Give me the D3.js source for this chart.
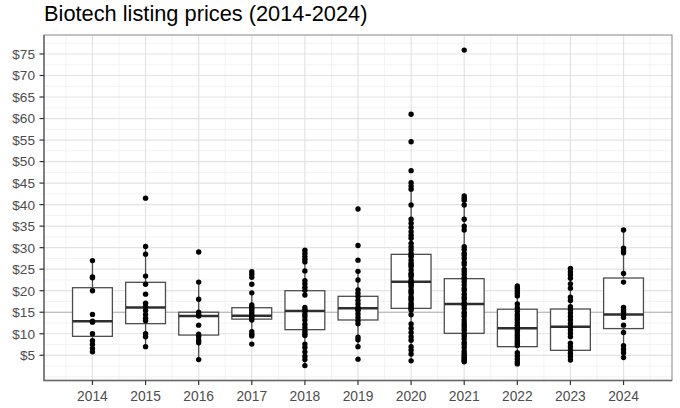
<!DOCTYPE html>
<html>
<head>
<meta charset="utf-8">
<script src="https://cdn.jsdelivr.net/npm/d3@7/dist/d3.min.js"></script>
<style>
body { margin: 0; background: #fff; }
text { font-family: "Liberation Sans", Arial, Helvetica, sans-serif; }
</style>
</head>
<body>
<svg id="chart"></svg>
<script>
var w = 680;
var h = 408;
var margin = {top: 35, right: 8, bottom: 27.5, left: 44};

var title = "Biotech listing prices (2014-2024)";
var years = [2014, 2015, 2016, 2017, 2018, 2019, 2020, 2021, 2022, 2023, 2024];
var yTicks = [5, 10, 15, 20, 25, 30, 35, 40, 45, 50, 55, 60, 65, 70, 75];
var yTickLabels = ["$5", "$10", "$15", "$20", "$25", "$30", "$35", "$40", "$45", "$50", "$55", "$60", "$65", "$70", "$75"];
var refPrice = 15;

// listing prices, one array per year
var prices2014 = [27.0, 23.2, 23.0, 20.0, 14.5, 12.9, 12.7, 10.0, 8.4, 7.5, 6.6, 5.8];
var prices2015 = [41.5, 30.3, 28.5, 23.4, 21.5, 19.2, 17.1, 16.3, 15.4, 14.5, 13.6, 13.0, 10.0, 9.3, 7.0];
var prices2016 = [29.0, 22.0, 18.0, 15.0, 14.5, 14.1, 12.0, 9.9, 9.3, 8.5, 7.9, 4.0];
var prices2017 = [24.4, 23.8, 23.1, 21.5, 19.5, 16.7, 16.2, 15.7, 15.1, 14.6, 14.1, 13.7, 13.2, 10.5, 9.9, 9.5, 7.6];
var prices2018 = [29.4, 28.7, 28.0, 27.3, 26.7, 24.6, 22.3, 21.6, 20.8, 20.1, 19.0, 16.1, 15.6, 15.3, 14.6, 14.0,
                  13.2, 12.2, 11.4, 10.6, 10.0, 9.6, 7.6, 6.8, 5.8, 4.8, 4.0, 2.6];
var prices2019 = [39.0, 30.5, 27.1, 24.5, 22.5, 20.2, 19.4, 18.6, 17.7, 16.9, 16.1, 15.7, 15.4, 14.6, 13.8, 13.0,
                  12.3, 9.2, 8.6, 7.0, 4.1];
var prices2020 = [61.0, 54.6, 47.9, 45.1, 44.3, 43.6, 39.9, 36.6, 35.7, 34.7, 33.7, 32.9, 32.2, 31.0, 30.2, 29.5,
                  28.7, 28.2, 27.9, 27.1, 26.4, 26.0, 25.6, 24.8, 24.0, 23.7, 23.3, 22.5, 22.1, 21.7, 21.3, 20.9,
                  20.2, 19.8, 19.4, 18.6, 18.2, 17.8, 17.1, 16.7, 16.3, 15.9, 15.5, 14.4, 12.3, 11.3, 10.3, 9.3,
                  8.5, 7.0, 6.2, 5.3, 3.7];
var prices2021 = [75.9, 42.0, 41.5, 41.0, 39.9, 36.6, 35.0, 34.1, 30.2, 29.6, 28.7, 28.2, 27.5, 26.6, 26.1, 25.0,
                  24.4, 23.8, 23.1, 22.6, 22.0, 21.3, 20.5, 20.0, 19.2, 18.5, 18.0, 17.2, 16.9, 16.5, 15.8, 15.0,
                  14.6, 14.0, 13.2, 12.5, 12.0, 11.4, 10.8, 10.0, 9.5, 8.8, 8.0, 7.5, 6.8, 6.0, 5.4, 5.0, 4.6,
                  4.3, 4.0, 3.7, 3.5];
var prices2022 = [21.1, 20.6, 20.0, 19.4, 18.8, 16.9, 16.0, 15.2, 14.5, 13.9, 13.3, 12.6, 12.0, 11.4, 10.8, 10.2,
                  9.6, 9.0, 8.4, 7.8, 7.3, 5.6, 4.9, 4.2, 3.5, 3.0];
var prices2023 = [25.2, 24.4, 23.7, 22.9, 21.6, 20.6, 18.5, 17.7, 16.3, 15.5, 14.8, 14.0, 13.2, 12.4, 11.6, 10.9,
                  10.1, 9.3, 7.8, 7.0, 6.2, 5.5, 4.7, 3.9];
var prices2024 = [34.1, 29.9, 29.3, 28.8, 24.0, 22.0, 16.1, 15.5, 15.0, 14.4, 13.8, 12.0, 10.3, 7.2, 6.4, 5.6, 4.5];

// box hinges and medians
var lowerHinge = [9.4, 12.35, 9.7, 13.4, 10.95, 13.2, 15.9, 10.1, 7.0, 6.15, 11.2];
var medians = [12.9, 16.1, 14.1, 14.2, 15.3, 15.9, 22.1, 16.9, 11.3, 11.6, 14.5];
var upperHinge = [20.7, 21.95, 15.0, 16.05, 20.0, 18.7, 28.45, 22.8, 15.7, 15.75, 22.95];

var prices = [prices2014, prices2015, prices2016, prices2017, prices2018, prices2019,
              prices2020, prices2021, prices2022, prices2023, prices2024];

var boxes = years.map(function (yr, i) {
    var iqr = upperHinge[i] - lowerHinge[i];
    var inside = prices[i].filter(function (p) {
        return p >= lowerHinge[i] - 1.5 * iqr && p <= upperHinge[i] + 1.5 * iqr;
    });
    return {year: yr, q1: lowerHinge[i], med: medians[i], q3: upperHinge[i],
            lo: d3.min(inside), hi: d3.max(inside)};
});

var points = [];
years.forEach(function (yr, i) {
    prices[i].forEach(function (p) { points.push({year: yr, price: p}); });
});

var svg = d3.select("#chart")
    .attr("width", w)
    .attr("height", h);

svg.append("rect").attr("width", w).attr("height", h).attr("fill", "#fff");

var x = d3.scaleLinear()
    .domain([2013.0875, 2024.9125])
    .range([margin.left, w - margin.right]);
var y = d3.scaleLinear()
    .domain([-0.86, 79.41])
    .range([h - margin.bottom, margin.top]);

var boxWidth = 0.75;

drawGrid();
drawBoxes();
drawPoints();
drawAxes();

function drawGrid() {
    var minorX = d3.range(2013.5, 2025, 1);
    var minorY = d3.range(0, 80, 2.5).filter(function (v) { return v % 5 !== 0 || v === 0; });
    var grid = svg.append("g");

    grid.selectAll(".minor-x").data(minorX).enter().append("line")
        .attr("x1", d => x(d)).attr("x2", d => x(d))
        .attr("y1", margin.top).attr("y2", h - margin.bottom)
        .style("stroke", "#f0f0f0").style("stroke-width", 0.8);
    grid.selectAll(".minor-y").data(minorY).enter().append("line")
        .attr("x1", margin.left).attr("x2", w - margin.right)
        .attr("y1", d => y(d)).attr("y2", d => y(d))
        .style("stroke", "#f0f0f0").style("stroke-width", 0.8);
    grid.selectAll(".major-x").data(years).enter().append("line")
        .attr("x1", d => x(d)).attr("x2", d => x(d))
        .attr("y1", margin.top).attr("y2", h - margin.bottom)
        .style("stroke", "#e3e3e3").style("stroke-width", 1.2);
    grid.selectAll(".major-y").data(yTicks).enter().append("line")
        .attr("x1", margin.left).attr("x2", w - margin.right)
        .attr("y1", d => y(d)).attr("y2", d => y(d))
        .style("stroke", "#e3e3e3").style("stroke-width", 1.2);

    // reference price
    svg.append("line")
        .attr("x1", margin.left).attr("x2", w - margin.right)
        .attr("y1", y(refPrice)).attr("y2", y(refPrice))
        .style("stroke", "#b0b0b0").style("stroke-width", 1.1);
}

function drawBoxes() {
    var g = svg.append("g");
    var box = g.selectAll(".box").data(boxes).enter().append("g").attr("class", "box");

    box.append("line")
        .attr("x1", d => x(d.year)).attr("x2", d => x(d.year))
        .attr("y1", d => y(d.hi)).attr("y2", d => y(d.q3))
        .style("stroke", "#4d4d4d").style("stroke-width", 1.3);
    box.append("line")
        .attr("x1", d => x(d.year)).attr("x2", d => x(d.year))
        .attr("y1", d => y(d.q1)).attr("y2", d => y(d.lo))
        .style("stroke", "#4d4d4d").style("stroke-width", 1.3);
    box.append("rect")
        .attr("x", d => x(d.year - boxWidth / 2))
        .attr("width", d => x(d.year + boxWidth / 2) - x(d.year - boxWidth / 2))
        .attr("y", d => y(d.q3))
        .attr("height", d => y(d.q1) - y(d.q3))
        .style("fill", "#fff")
        .style("stroke", "#4d4d4d").style("stroke-width", 1.3);
    box.append("line")
        .attr("x1", d => x(d.year - boxWidth / 2)).attr("x2", d => x(d.year + boxWidth / 2))
        .attr("y1", d => y(d.med)).attr("y2", d => y(d.med))
        .style("stroke", "#2e2e2e").style("stroke-width", 2.5);
}

function drawPoints() {
    svg.append("g").selectAll("circle").data(points).enter().append("circle")
        .attr("cx", d => x(d.year))
        .attr("cy", d => y(d.price))
        .attr("r", 2.7)
        .style("fill", "#000");
}

function drawAxes() {
    var left = margin.left, right = w - margin.right;
    var top = margin.top, bottom = h - margin.bottom;

    svg.append("rect")
        .attr("x", left).attr("y", top)
        .attr("width", right - left).attr("height", bottom - top)
        .style("fill", "none").style("stroke", "#9a9a9a").style("stroke-width", 1.2);
    svg.append("path")
        .attr("d", "M" + left + "," + top + "V" + bottom + "H" + right)
        .style("fill", "none").style("stroke", "#666").style("stroke-width", 1.4);

    var yAxis = svg.append("g");
    yAxis.selectAll("line").data(yTicks).enter().append("line")
        .attr("x1", left - 4.5).attr("x2", left)
        .attr("y1", d => y(d)).attr("y2", d => y(d))
        .style("stroke", "#333").style("stroke-width", 1.2);
    yAxis.selectAll("text").data(yTicks).enter().append("text")
        .attr("x", left - 9)
        .attr("y", d => y(d))
        .attr("dy", "0.36em")
        .attr("text-anchor", "end")
        .style("font-size", "13.6px")
        .style("fill", "#4d4d4d")
        .text((d, i) => yTickLabels[i]);

    var xAxis = svg.append("g");
    xAxis.selectAll("line").data(years).enter().append("line")
        .attr("x1", d => x(d)).attr("x2", d => x(d))
        .attr("y1", bottom).attr("y2", bottom + 4.5)
        .style("stroke", "#333").style("stroke-width", 1.2);
    xAxis.selectAll("text").data(years).enter().append("text")
        .attr("x", d => x(d))
        .attr("y", 401)
        .attr("text-anchor", "middle")
        .style("font-size", "13.8px")
        .style("fill", "#4d4d4d")
        .text(d => d);

    svg.append("text")
        .attr("x", left)
        .attr("y", 21)
        .style("font-size", "21.8px")
        .style("fill", "#000")
        .text(title);
}
</script>
</body>
</html>
